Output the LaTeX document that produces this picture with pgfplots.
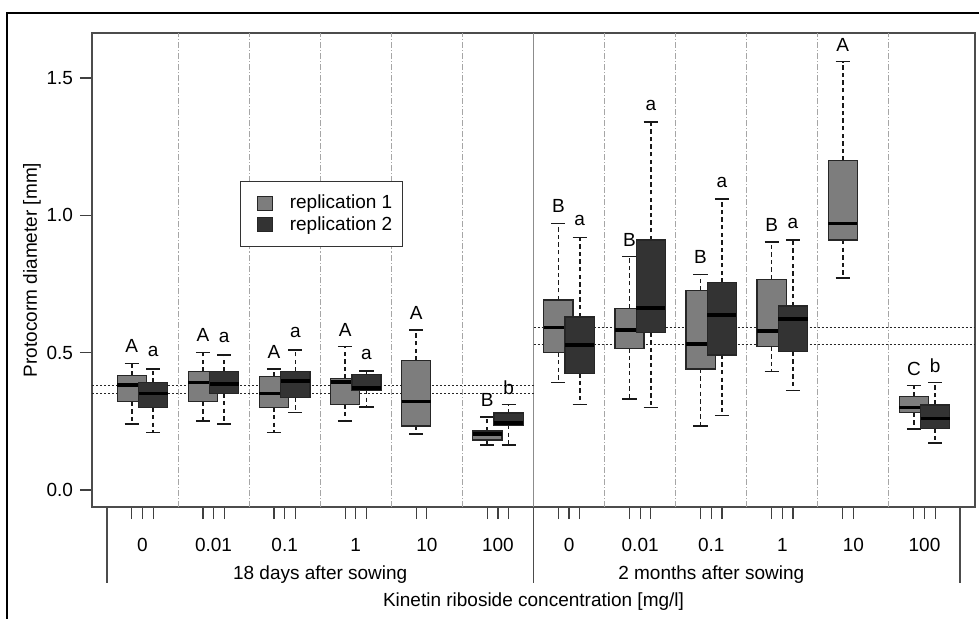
\documentclass[border=0pt]{standalone}
\usepackage{fontspec}
\setmainfont{Liberation Sans}
\usepackage{pgfplots}
\usepackage{pgfplotstable}
\pgfplotsset{compat=1.18}
\usepgfplotslibrary{statistics}

\definecolor{rgray}{HTML}{7D7D7D}
\definecolor{rdark}{HTML}{333333}
\newcommand{\lbl}{\fontsize{9.5}{11}\selectfont}

% box statistics (protocorm diameter, mm)
\pgfplotstableread{
pos    lw    lq    med   uq    uw    lab
-0.15  0.240 0.322 0.382 0.416 0.461 A
0.85   0.252 0.322 0.392 0.431 0.501 A
1.85   0.210 0.301 0.352 0.413 0.441 A
2.85   0.251 0.312 0.394 0.405 0.522 A
3.85   0.204 0.233 0.322 0.471 0.583 A
4.85   0.164 0.182 0.203 0.215 0.265 B
5.85   0.392 0.501 0.591 0.692 0.971 B
6.85   0.331 0.516 0.583 0.662 0.850 B
7.85   0.233 0.441 0.532 0.726 0.785 B
8.85   0.431 0.522 0.580 0.767 0.904 B
9.85   0.771 0.910 0.971 1.199 1.560 A
10.85  0.222 0.282 0.301 0.340 0.380 C
}\repone

\pgfplotstableread{
pos    lw    lq    med   uq    uw    lab
0.15   0.210 0.301 0.352 0.391 0.441 a
1.15   0.240 0.352 0.385 0.431 0.492 a
2.15   0.282 0.336 0.397 0.431 0.510 a
3.15   0.303 0.364 0.372 0.420 0.433 a
5.15   0.164 0.237 0.243 0.280 0.311 b
6.15   0.312 0.425 0.528 0.630 0.920 a
7.15   0.301 0.573 0.662 0.910 1.339 a
8.15   0.271 0.492 0.637 0.755 1.059 a
9.15   0.362 0.504 0.622 0.670 0.910 a
11.15  0.172 0.225 0.261 0.310 0.392 b
}\reptwo

\tikzset{
  whisk/.style={black!90, line width=0.8pt, dash pattern=on 2.2pt off 1.6pt},
  wcap/.style={black!90, line width=0.8pt, solid},
  sep/.style={black!35, line width=0.5pt, dash pattern=on 3pt off 1pt on 0.6pt off 1pt},
}

\pgfplotsset{
  boxplot/draw/lower whisker/.code={%
    \draw[whisk] (boxplot cs:\pgfplotsboxplotvalue{lower quartile}) -- (boxplot cs:\pgfplotsboxplotvalue{lower whisker});
    \draw[wcap] (boxplot whisker cs:\pgfplotsboxplotvalue{lower whisker},0) -- (boxplot whisker cs:\pgfplotsboxplotvalue{lower whisker},1);
  },
  boxplot/draw/upper whisker/.code={%
    \draw[whisk] (boxplot cs:\pgfplotsboxplotvalue{upper quartile}) -- (boxplot cs:\pgfplotsboxplotvalue{upper whisker});
    \draw[wcap] (boxplot whisker cs:\pgfplotsboxplotvalue{upper whisker},0) -- (boxplot whisker cs:\pgfplotsboxplotvalue{upper whisker},1);
  },
  bx/.style={forget plot, mark=none, solid,
    boxplot/draw direction=y,
    boxplot/box extend=0.41, boxplot/whisker extend=0.2,
    boxplot/every median/.style={black, line width=1.8pt},
    boxplot/every box/.style={fill=#1, draw=black!85, line width=0.65pt}},
}

% one box from row #2 of table #1, filled with colour #3
\newcommand{\tabbox}[3]{%
  \pgfplotstablegetelem{#2}{pos}\of#1\let\bpos\pgfplotsretval
  \pgfplotstablegetelem{#2}{lw}\of#1\let\blw\pgfplotsretval
  \pgfplotstablegetelem{#2}{lq}\of#1\let\blq\pgfplotsretval
  \pgfplotstablegetelem{#2}{med}\of#1\let\bmed\pgfplotsretval
  \pgfplotstablegetelem{#2}{uq}\of#1\let\buq\pgfplotsretval
  \pgfplotstablegetelem{#2}{uw}\of#1\let\buw\pgfplotsretval
  \edef\tmp{\noexpand\addplot[bx=#3, boxplot prepared={draw position=\bpos,
    lower whisker=\blw, lower quartile=\blq, median=\bmed,
    upper quartile=\buq, upper whisker=\buw}] coordinates {};}%
  \tmp
}

\begin{document}
\begin{tikzpicture}
\useasboundingbox (0,0) rectangle (489.5pt,309pt);
\fill[white] (0,0) rectangle (489.5pt,309pt);
\draw[black, line width=0.8pt] (3.5pt,-5pt) -- (3.5pt,302.5pt) -- (495pt,302.5pt);

\begin{axis}[
  at={(46pt,55.5pt)}, anchor=south west,
  scale only axis, width=441.5pt, height=237pt,
  xmin=-0.71, xmax=11.71, ymin=-0.0619, ymax=1.664,
  clip=false,
  axis line style={black!70, line width=0.6pt},
  tick style={black!75, line width=0.6pt},
  tick align=outside, major tick length=6pt,
  xtick pos=bottom, ytick pos=left,
  ytick={0,0.5,1,1.5}, yticklabels={0.0,0.5,1.0,1.5},
  xtick={-0.15,0,0.15, 0.85,1,1.15, 1.85,2,2.15, 2.85,3,3.15, 3.85,4,
         4.85,5,5.15, 5.85,6,6.15, 6.85,7,7.15, 7.85,8,8.15, 8.85,9,9.15,
         9.85,10, 10.85,11,11.15},
  xticklabels={},
  extra x ticks={0,1,2,3,4,5,6,7,8,9,10,11},
  extra x tick labels={0,0.01,0.1,1,10,100,0,0.01,0.1,1,10,100},
  extra x tick style={major tick length=0pt, xticklabel style={anchor=center, yshift=-19pt}},
  tick label style={font=\lbl},
  /pgf/number format/assume math mode=true,
  ylabel={Protocorm diameter [mm]},
  ylabel style={font=\lbl, at={(axis description cs:-0.068,0.5)}, anchor=center},
  xlabel={Kinetin riboside concentration [mg/l]},
  xlabel style={font=\lbl, at={(axis description cs:0.5,0)}, anchor=center, yshift=-47.5pt},
  legend style={at={(axis description cs:0.1676,0.6878)}, anchor=north west,
    draw=black!80, line width=0.6pt, font=\lbl, fill=white,
    inner xsep=2pt, inner ysep=6pt, row sep=1.2pt,
    nodes={inner xsep=3pt, inner ysep=0.6pt}},
  legend cell align=left,
]
% group separators
\foreach \s in {0.5,1.5,2.5,3.5,4.5,6.5,7.5,8.5,9.5,10.5}{
  \edef\tmp{\noexpand\draw[sep] (axis cs:\s,-0.0619) -- (axis cs:\s,1.664);}\tmp
}
\draw[black!45, line width=0.5pt] (axis cs:5.5,-0.0619) -- (axis cs:5.5,1.664);

% reference levels
\addplot[forget plot, mark=none, black!85, line width=0.5pt, dash pattern=on 1pt off 1pt] coordinates {(-0.71,0.379) (5.5,0.379)};
\addplot[forget plot, mark=none, black!85, line width=0.5pt, dash pattern=on 1pt off 1pt] coordinates {(-0.71,0.353) (5.5,0.353)};
\addplot[forget plot, mark=none, black!85, line width=0.5pt, dash pattern=on 1pt off 1pt] coordinates {(5.5,0.590) (11.71,0.590)};
\addplot[forget plot, mark=none, black!85, line width=0.5pt, dash pattern=on 1pt off 1pt] coordinates {(5.5,0.528) (11.71,0.528)};

% replication 1, then replication 2 on top
\pgfplotsinvokeforeach{0,...,11}{\tabbox{\repone}{#1}{rgray}}
\pgfplotsinvokeforeach{0,...,9}{\tabbox{\reptwo}{#1}{rdark}}

% significance letters
\addplot[forget plot, draw=none, mark=none, nodes near coords, point meta=explicit symbolic,
  nodes near coords style={font=\lbl, anchor=center, yshift=8.5pt, text=black}]
  table[x=pos, y=uw, meta=lab] {\repone};
\addplot[forget plot, draw=none, mark=none, nodes near coords, point meta=explicit symbolic,
  nodes near coords style={font=\lbl, anchor=center, yshift=8.5pt, text=black}]
  table[x=pos, y=uw, meta=lab] {\reptwo};

% legend
\addlegendimage{legend image code/.code={\path (0pt,0pt) (19pt,0pt); \draw[fill=rgray, draw=black!85, line width=0.5pt] (6pt,-3.5pt) rectangle (13.5pt,3.5pt);}}
\addlegendentry{replication 1}
\addlegendimage{legend image code/.code={\path (0pt,0pt) (19pt,0pt); \draw[fill=rdark, draw=black!85, line width=0.5pt] (6pt,-3.5pt) rectangle (13.5pt,3.5pt);}}
\addlegendentry{replication 2}

% period brackets and labels below the axis
\draw[black!70, line width=0.6pt] (axis cs:-0.5,-0.0619) -- ++(0pt,-38pt);
\draw[black!70, line width=0.6pt] (axis cs:5.5,-0.0619) -- ++(0pt,-38pt);
\draw[black!70, line width=0.6pt] (axis cs:11.5,-0.0619) -- ++(0pt,-38pt);
\node[font=\lbl, yshift=-34pt] at (axis cs:2.5,-0.0619) {18 days after sowing};
\node[font=\lbl, yshift=-34pt] at (axis cs:8,-0.0619) {2 months after sowing};
\end{axis}
\end{tikzpicture}
\end{document}
